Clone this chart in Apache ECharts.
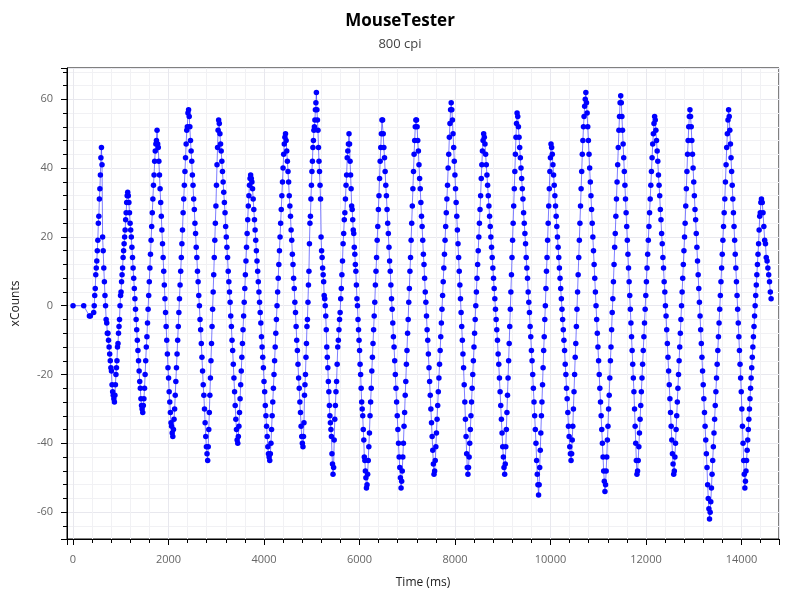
<!DOCTYPE html>
<html>
<head>
<meta charset="utf-8">
<script src="https://cdn.jsdelivr.net/npm/echarts@6/dist/echarts.min.js"></script>
<style>html,body{margin:0;padding:0;background:#fff}#c{width:800px;height:600px}</style>
</head>
<body>
<div id="c"></div>
<script>
// ---- data ----
const titleText = 'MouseTester';
const subtitleText = '800 cpi';
const xName = 'Time (ms)';
const yName = 'xCounts';

// first few samples before the motion starts
const leadTimes = [0, 224, 343, 364];
const leadValues = [0, 0, -3, -3];

// times (ms) of the turning points of the trace
const turnTimes = [433, 595, 867, 1145, 1460, 1760, 2090, 2420, 2820, 3050, 3450, 3720, 4120, 4450, 4816, 5097, 5445, 5780, 6145, 6470, 6870, 7180, 7560, 7920, 8270, 8600, 9040, 9300, 9750, 10010, 10430, 10740, 11140, 11470, 11810, 12180, 12580, 12920, 13330, 13730, 14070, 14417, 14620];

// sample values of each stretch between two turning points
const segValues = [
  [-2, 0, 3, 5, 9, 11, 13, 16, 19, 24, 26, 31, 34, 38, 43],
  [46, 41, 20, 16, 11, 7, 3, 0, -4, -5, -8, -8, -10, -12, -14, -16, -18, -19, -23, -25, -26, -27],
  [-28, -26, -23, -20, -18, -16, -12, -11, -8, -6, -4, 0, 3, 4, 7, 9, 11, 14, 16, 18, 20, 22, 25, 27, 30, 32],
  [33, 32, 30, 27, 24, 22, 20, 17, 14, 11, 8, 5, 2, -1, -4, -7, -10, -13, -16, -19, -22, -24, -27, -29, -30],
  [-31, -29, -27, -24, -20, -16, -12, -9, -5, -1, 3, 7, 11, 15, 19, 23, 27, 31, 35, 38, 42, 45, 47, 48],
  [51, 47, 46, 42, 38, 34, 30, 26, 22, 18, 14, 10, 6, 2, -2, -6, -10, -14, -18, -21, -25, -28, -31, -34, -35, -37],
  [-38, -36, -33, -30, -26, -22, -18, -14, -10, -6, -2, 2, 6, 10, 14, 18, 22, 27, 31, 35, 39, 43, 47, 51, 52, 56],
  [57, 55, 52, 48, 45, 42, 38, 35, 31, 28, 24, 21, 17, 14, 10, 7, 3, 0, -4, -7, -11, -15, -19, -23, -26, -30, -34, -38, -41, -43],
  [-45, -41, -36, -31, -26, -21, -16, -11, -6, -1, 4, 9, 14, 19, 24, 29, 35, 41, 46, 51],
  [54, 53, 50, 47, 45, 42, 39, 36, 33, 30, 27, 23, 20, 17, 14, 10, 7, 4, 1, -3, -6, -10, -13, -17, -21, -25, -29, -33, -36, -39],
  [-40, -38, -35, -31, -27, -23, -19, -15, -11, -7, -3, 1, 5, 9, 13, 17, 21, 25, 29, 32, 35, 37],
  [38, 37, 36, 34, 31, 28, 25, 22, 19, 16, 13, 10, 7, 4, 1, -2, -5, -9, -12, -15, -18, -22, -25, -29, -32, -35, -38, -41, -43, -44],
  [-45, -43, -40, -36, -32, -28, -24, -20, -16, -12, -8, -4, 0, 4, 8, 12, 16, 20, 24, 28, 32, 36, 40, 44, 47, 49],
  [50, 48, 45, 42, 39, 36, 32, 29, 26, 22, 19, 15, 12, 8, 5, 1, -2, -6, -10, -13, -17, -21, -24, -28, -31, -35, -38, -40],
  [-41, -38, -34, -26, -23, -20, -15, -11, -6, -4, 1, 6, 10, 18, 24, 26, 31, 35, 39, 42, 46, 48, 51, 52, 54, 57, 59],
  [62, 57, 54, 51, 46, 42, 39, 35, 31, 20, 16, 14, 11, 9, 7, 3, 2, 0, -3, -7, -12, -15, -18, -22, -25, -29, -32, -34, -36, -38, -43, -46],
  [-49, -47, -39, -33, -29, -25, -22, -17, -12, -10, -7, -4, -2, 2, 5, 9, 13, 18, 21, 25, 27, 31, 35, 38, 43, 45, 47],
  [50, 47, 42, 38, 34, 29, 28, 25, 22, 21, 17, 15, 12, 10, 6, 2, 0, -4, -7, -10, -13, -17, -20, -24, -28, -30, -32, -36, -39, -44, -45, -48, -50],
  [-53, -52, -49, -45, -41, -37, -32, -28, -24, -19, -15, -11, -7, -3, 1, 6, 10, 14, 19, 23, 28, 32, 37, 42, 46, 50],
  [54, 54, 50, 46, 43, 39, 35, 32, 28, 24, 21, 17, 13, 10, 6, 2, -1, -5, -9, -12, -16, -20, -24, -28, -32, -36, -40, -44, -47, -50],
  [-53, -51, -48, -44, -40, -35, -31, -26, -22, -17, -13, -8, -4, 1, 5, 10, 14, 19, 24, 29, 34, 39, 44, 48, 52],
  [54, 54, 52, 48, 45, 41, 37, 34, 30, 26, 23, 19, 15, 12, 8, 4, 1, -3, -7, -10, -14, -18, -22, -26, -30, -34, -38, -42, -46],
  [-49, -48, -45, -41, -37, -33, -29, -25, -21, -17, -13, -9, -5, -1, 3, 7, 11, 15, 19, 23, 27, 31, 35, 40, 44, 49, 53, 57],
  [59, 57, 54, 50, 46, 42, 38, 34, 30, 26, 22, 18, 14, 10, 6, 2, -2, -6, -10, -14, -18, -23, -28, -33, -38, -43, -47],
  [-49, -47, -44, -40, -36, -32, -28, -24, -20, -16, -12, -8, -4, 0, 4, 8, 12, 16, 20, 24, 28, 32, 37, 41, 45, 48],
  [50, 49, 47, 44, 41, 38, 35, 32, 29, 26, 23, 20, 17, 14, 11, 8, 5, 2, -1, -4, -7, -10, -14, -17, -21, -25, -29, -33, -37, -41, -44, -47],
  [-49, -46, -41, -36, -31, -26, -21, -16, -11, -6, -1, 4, 9, 14, 19, 24, 29, 34, 39, 44, 49, 53],
  [56, 55, 52, 49, 46, 43, 40, 37, 34, 31, 27, 24, 21, 18, 14, 11, 8, 4, 1, -2, -6, -9, -13, -16, -20, -24, -28, -32, -36, -40, -45, -49, -52],
  [-55, -52, -47, -42, -37, -32, -28, -23, -18, -13, -9, -4, 0, 5, 10, 14, 19, 24, 29, 34, 39, 43],
  [47, 46, 44, 41, 38, 35, 32, 29, 26, 23, 20, 17, 14, 11, 8, 5, 2, -1, -4, -7, -10, -13, -17, -20, -24, -27, -31, -35, -38, -41, -43],
  [-45, -43, -39, -35, -30, -25, -20, -15, -11, -6, -1, 4, 9, 14, 19, 24, 29, 34, 39, 44, 48, 52, 55, 58, 60],
  [62, 59, 56, 52, 48, 44, 40, 36, 32, 28, 24, 20, 16, 12, 8, 4, 0, -4, -8, -12, -16, -20, -24, -28, -32, -36, -40, -44, -48, -51],
  [-54, -52, -48, -44, -39, -35, -30, -26, -21, -16, -12, -7, -2, 2, 7, 12, 17, 21, 26, 31, 36, 41, 46, 51, 55, 59],
  [61, 59, 55, 51, 47, 43, 39, 35, 31, 27, 23, 19, 15, 11, 7, 3, -1, -5, -9, -13, -17, -21, -25, -30, -35, -40, -45],
  [-49, -48, -45, -41, -37, -33, -29, -25, -21, -17, -13, -9, -5, -1, 3, 7, 11, 15, 19, 23, 27, 31, 35, 39, 43, 47, 50, 53],
  [55, 54, 51, 48, 45, 42, 38, 35, 32, 28, 25, 21, 18, 14, 11, 7, 4, 0, -3, -7, -11, -15, -19, -23, -27, -31, -35, -39, -43, -46],
  [-49, -48, -44, -40, -36, -32, -28, -24, -20, -16, -12, -8, -4, 0, 4, 8, 12, 16, 20, 24, 29, 34, 39, 44, 48, 52, 55],
  [57, 55, 52, 48, 44, 40, 36, 32, 28, 25, 21, 17, 13, 9, 5, 1, -3, -7, -11, -15, -19, -23, -27, -31, -35, -39, -43, -47, -52, -56, -59],
  [-62, -60, -57, -53, -49, -45, -41, -37, -33, -29, -25, -21, -17, -13, -9, -5, -1, 3, 7, 11, 15, 19, 23, 27, 31, 36, 41, 46, 50, 54],
  [57, 55, 51, 47, 43, 39, 35, 31, 27, 23, 19, 15, 11, 7, 3, -1, -5, -9, -13, -17, -21, -25, -30, -35, -40, -45, -49],
  [-53, -51, -48, -45, -42, -39, -36, -33, -30, -27, -24, -21, -18, -15, -12, -9, -6, -3, 0, 3, 6, 9, 12, 15, 18, 22, 26, 27, 30],
  [31, 30, 27, 23, 19, 18, 14, 13, 11, 9, 7, 4]
];
const endValue = 2;

// ---- build points ----
const points = [];
leadTimes.forEach((t, i) => points.push([t, leadValues[i]]));
segValues.forEach((vals, i) => {
  const t0 = turnTimes[i], t1 = turnTimes[i + 1];
  vals.forEach((v, k) => points.push([t0 + (t1 - t0) * k / vals.length, v]));
});
points.push([turnTimes[turnTimes.length - 1], endValue]);

const chart = echarts.init(document.getElementById('c'), null, {renderer: 'canvas'});
const font = "'Open Sans', 'Noto Sans', sans-serif";
const plain = v => String(v);
chart.setOption({
  animation: false,
  backgroundColor: '#fff',
  title: {
    text: titleText,
    subtext: subtitleText,
    left: 'center',
    top: 8,
    itemGap: 8,
    textStyle: {fontFamily: font, fontSize: 17, fontWeight: 'bold', color: '#000'},
    subtextStyle: {fontFamily: font, fontSize: 13, color: '#444'}
  },
  grid: {left: 67, right: 21, top: 68, bottom: 61, show: true, borderColor: '#000', borderWidth: 1, containLabel: false},
  xAxis: {
    type: 'value',
    min: -126,
    max: 14785,
    splitNumber: 7,
    name: xName,
    nameLocation: 'middle',
    nameGap: 38,
    nameTextStyle: {fontFamily: font, fontSize: 12, color: '#222'},
    axisLine: {show: true, onZero: false, lineStyle: {color: '#000', width: 1}},
    axisTick: {show: true, length: 6, lineStyle: {color: '#000'}},
    minorTick: {show: true, splitNumber: 5, length: 4, lineStyle: {color: '#000'}},
    axisLabel: {fontFamily: font, fontSize: 11, color: '#666', margin: 15, showMinLabel: false, showMaxLabel: false, formatter: plain},
    splitLine: {show: true, lineStyle: {color: '#e8e8ee', width: 1}},
    minorSplitLine: {show: true, lineStyle: {color: '#f1f1f4', width: 1}}
  },
  yAxis: {
    type: 'value',
    min: -67.8,
    max: 69.1,
    splitNumber: 7,
    name: yName,
    nameLocation: 'middle',
    nameGap: 45,
    nameTextStyle: {fontFamily: font, fontSize: 12, color: '#222'},
    axisLine: {show: true, onZero: false, lineStyle: {color: '#000', width: 1}},
    axisTick: {show: true, length: 6, lineStyle: {color: '#000'}},
    minorTick: {show: true, splitNumber: 5, length: 4, lineStyle: {color: '#000'}},
    axisLabel: {fontFamily: font, fontSize: 11, color: '#666', margin: 14, showMinLabel: false, showMaxLabel: false, formatter: plain},
    splitLine: {show: true, lineStyle: {color: '#e8e8ee', width: 1}},
    minorSplitLine: {show: true, lineStyle: {color: '#f1f1f4', width: 1}}
  },
  series: [{
    type: 'line',
    data: points,
    symbol: 'circle',
    symbolSize: 5.5,
    showSymbol: true,
    showAllSymbol: true,
    itemStyle: {color: '#0000ff'},
    lineStyle: {color: 'rgba(40,40,255,0.6)', width: 1},
    emphasis: {disabled: true}
  }]
});
</script>
</body>
</html>
